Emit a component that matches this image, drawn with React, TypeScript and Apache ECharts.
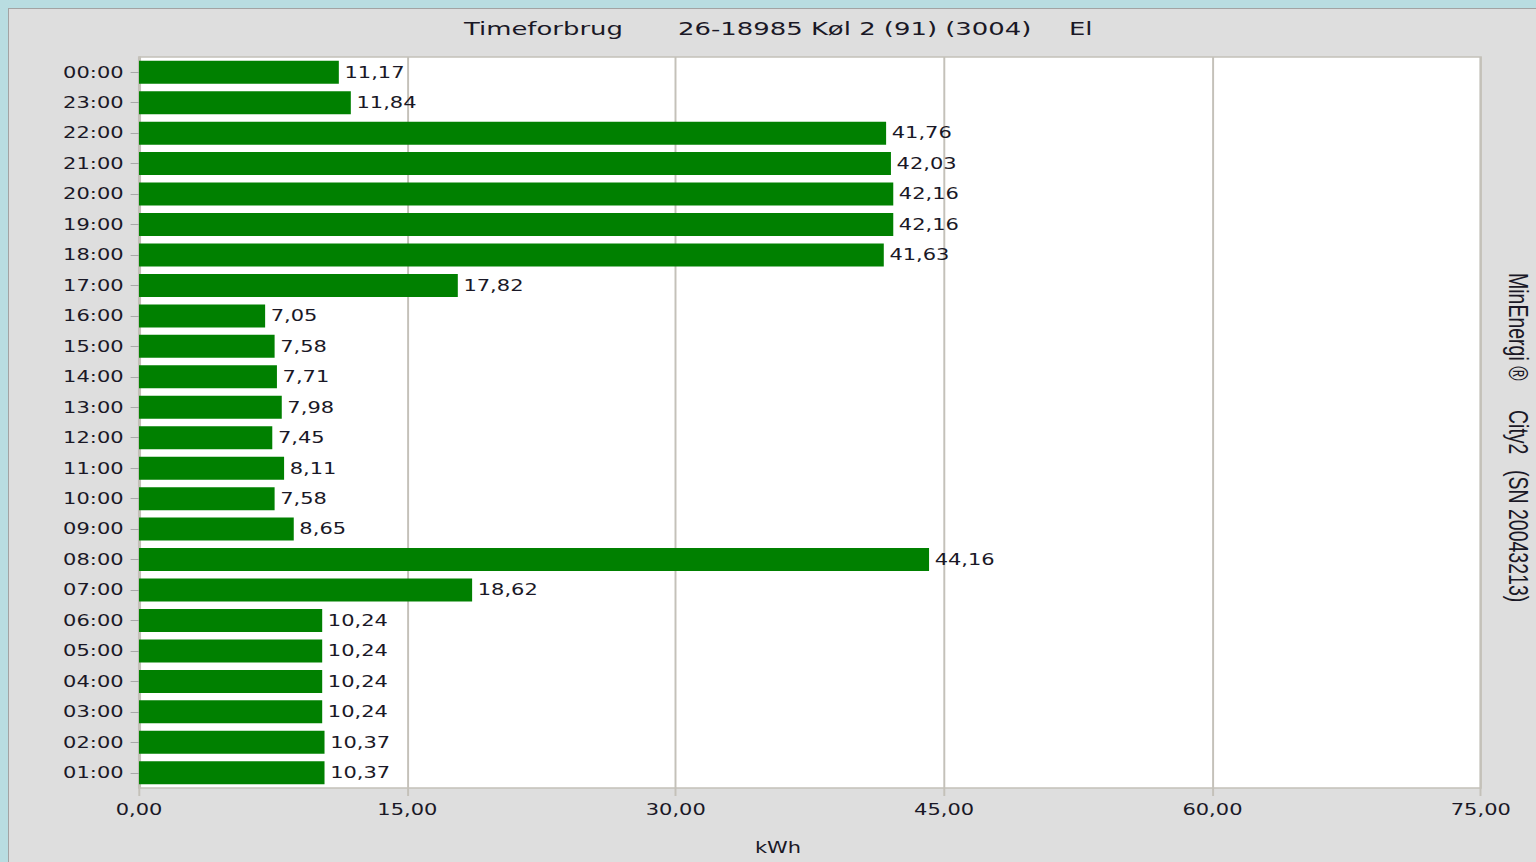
import React, { useEffect, useRef } from "react";
import * as echarts from "echarts";

const hours = [
  "01:00", "02:00", "03:00", "04:00", "05:00", "06:00", "07:00", "08:00",
  "09:00", "10:00", "11:00", "12:00", "13:00", "14:00", "15:00", "16:00",
  "17:00", "18:00", "19:00", "20:00", "21:00", "22:00", "23:00", "00:00",
];
const kwh = [
  10.37, 10.37, 10.24, 10.24, 10.24, 10.24, 18.62, 44.16,
  8.65, 7.58, 8.11, 7.45, 7.98, 7.71, 7.58, 7.05,
  17.82, 41.63, 42.16, 42.16, 42.03, 41.76, 11.84, 11.17,
];
const xMin = 0;
const xMax = 75;
const xStep = 15;
const titleParts = ["Timeforbrug", "26-18985 Køl 2 (91) (3004)", "El"];
const sideParts = ["MinEnergi ®", "City2", "(SN 20043213)"];
const unitLabel = "kWh";

const S = 1.4; // horizontal stretch of the original screenshot
const W = 1536 / S;
const fmt = (v: number) => v.toFixed(2).replace(".", ",");
const FONT = "DejaVu Sans";
const TXT = "#1a1826";
const GRIDC = "#c4c1b9";

export default function App() {
  const ref = useRef<HTMLDivElement>(null);
  useEffect(() => {
    if (!ref.current) return;
    const chart = echarts.init(ref.current, null, { renderer: "svg" });
    chart.setOption({
      animation: false,
      backgroundColor: "transparent",
      grid: {
        left: 139 / S,
        right: 55 / S,
        top: 57,
        bottom: 74,
        show: true,
        backgroundColor: "#ffffff",
        borderColor: GRIDC,
        borderWidth: 1.5,
      },
      graphic: [
        { type: "text", x: 464 / S, y: 28, style: { text: titleParts[0], font: `18.5px "${FONT}"`, fill: TXT, textVerticalAlign: "middle" } },
        { type: "text", x: 678 / S, y: 28, style: { text: titleParts[1], font: `18.5px "${FONT}"`, fill: TXT, textVerticalAlign: "middle" } },
        { type: "text", x: 1069 / S, y: 28, style: { text: titleParts[2], font: `18.5px "${FONT}"`, fill: TXT, textVerticalAlign: "middle" } },
        { type: "text", x: 778 / S, y: 848, style: { text: unitLabel, font: `15px "${FONT}"`, fill: TXT, textAlign: "center", textVerticalAlign: "middle" } },
        { type: "text", x: 1518 / S, y: 273, rotation: -Math.PI / 2, style: { text: sideParts[0], font: `19.5px "Liberation Sans"`, fill: TXT, textVerticalAlign: "middle" } },
        { type: "text", x: 1518 / S, y: 410, rotation: -Math.PI / 2, style: { text: sideParts[1], font: `19.5px "Liberation Sans"`, fill: TXT, textVerticalAlign: "middle" } },
        { type: "text", x: 1518 / S, y: 470, rotation: -Math.PI / 2, style: { text: sideParts[2], font: `19.5px "Liberation Sans"`, fill: TXT, textVerticalAlign: "middle" } },
      ],
      xAxis: {
        type: "value",
        min: xMin,
        max: xMax,
        interval: xStep,
        axisLine: { show: false },
        axisTick: { show: true, length: 8, lineStyle: { color: GRIDC, width: 1.4 } },
        splitLine: { show: true, lineStyle: { color: GRIDC, width: 1.4 } },
        axisLabel: {
          formatter: (v: number) => fmt(v),
          fontFamily: FONT,
          fontSize: 15,
          color: TXT,
          margin: 14,
          showMinLabel: true,
          showMaxLabel: true,
        },
      },
      yAxis: {
        type: "category",
        data: hours,
        axisLine: { show: true, lineStyle: { color: GRIDC, width: 1.5 } },
        axisTick: { show: true, alignWithLabel: true, length: 6, lineStyle: { color: "#a8a8a8", width: 1 } },
        splitLine: { show: false },
        axisLabel: {
          fontFamily: FONT,
          fontSize: 15,
          color: TXT,
          margin: 11,
          interval: 0,
        },
      },
      series: [
        {
          type: "bar",
          data: kwh,
          barWidth: 23,
          itemStyle: { color: "#008000" },
          label: {
            show: true,
            position: "right",
            distance: 4,
            formatter: (p: any) => fmt(p.value),
            fontFamily: FONT,
            fontSize: 15,
            color: TXT,
          },
        },
      ],
    });
    return () => chart.dispose();
  }, []);

  return (
    <div style={{ position: "fixed", left: 0, top: 0, width: 1536, height: 862, background: "#b9dde1", overflow: "hidden" }}>
      <div style={{ position: "absolute", left: 8, top: 8, right: 0, bottom: 0, background: "#dedede", borderTop: "1px solid #a3a3a3", borderLeft: "1px solid #a3a3a3" }} />
      <div
        ref={ref}
        style={{ position: "absolute", left: 0, top: 0, width: W, height: 862, transform: `scaleX(${S})`, transformOrigin: "0 0" }}
      />
    </div>
  );
}
